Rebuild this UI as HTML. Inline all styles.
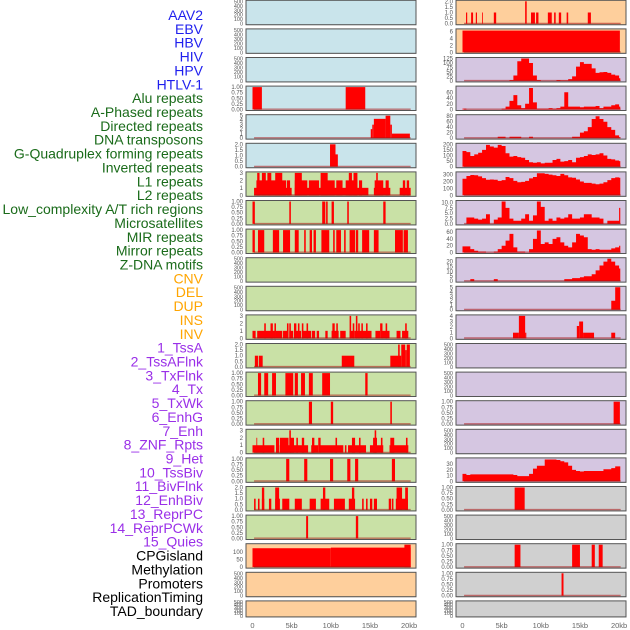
<!DOCTYPE html>
<html><head><meta charset="utf-8"><style>
html,body{margin:0;padding:0;background:#fff;}
svg{display:block;font-family:"Liberation Sans",sans-serif;}
</style></head><body>
<svg id="chart" width="630" height="630" viewBox="0 0 630 630" xmlns="http://www.w3.org/2000/svg"></svg>
<script>
// ---- data ----
const trackLabels = ["AAV2","EBV","HBV","HIV","HPV","HTLV-1","Alu repeats","A-Phased repeats","Directed repeats","DNA transposons","G-Quadruplex forming repeats","Inverted repeats","L1 repeats","L2 repeats","Low_complexity A/T rich regions","Microsatellites","MIR repeats","Mirror repeats","Z-DNA motifs","CNV","DEL","DUP","INS","INV","1_TssA","2_TssAFlnk","3_TxFlnk","4_Tx","5_TxWk","6_EnhG","7_Enh","8_ZNF_Rpts","9_Het","10_TssBiv","11_BivFlnk","12_EnhBiv","13_ReprPC","14_ReprPCWk","15_Quies","CPGisland","Methylation","Promoters","ReplicationTiming","TAD_boundary"];
const xTicks = [0,5,10,15,20];
const xTickLabels = ["0","5kb","10kb","15kb","20kb"];
const emptyTicks = [0,100,200,300,400,500];
// segment data [startKb, endKb, value]
const hivSegs = [[0,1.2,1],[11.9,14.4,1]];
const hpvSegs = [[15.1,15.3,2],[15.3,15.5,3],[15.5,17.0,4.3],[17.0,17.6,5],[17.6,17.8,3],[17.8,20.1,1]];
const htlvSegs = [[9.9,10.6,2],[10.6,10.9,1.1]];
const aluSegs = [[0.2,5.0,1],[5.4,14.8,1],[15.5,17.6,1],[18.8,20.2,1],
 [0.5,4.3,2],[4.4,4.8,2],[5.4,7.0,2],[7.2,8.5,2],[8.7,10.5,2],[10.7,11.5,2],[11.9,13.4,2],[13.6,14.0,2],[15.6,16.7,2],[17.0,17.4,2],[19.2,19.5,2],[19.7,20.0,2],
 [0.6,0.9,3],[1.2,1.7,3],[1.9,2.4,3],[2.9,3.8,3],[5.4,6.3,3],[8.7,9.6,3],[12.3,12.7,3],[12.9,13.4,3],[15.8,16.0,3]];
const aphasedSegs = [[0,0.3,1],[4.7,4.9,1],[8.9,9.3,1],[9.4,9.6,1],[10.1,10.4,1],[12.1,12.3,1],[16.7,17.0,1]];
const directedSegs = [[0,0.3,1],[0.7,1.5,1],[2.6,3.4,1],[3.9,4.8,1],[5.4,5.9,1],[6.6,6.8,1],[7.3,7.6,1],[7.8,8.1,1],[8.8,9.8,1],[10.3,10.5,1],[10.7,11.3,1],[11.7,11.9,1],[12.4,13.1,1],[13.2,13.5,1],[14.0,14.9,1],[15.5,16.1,1],[18.2,19.2,1],[19.3,19.85,1]];
const invertedSegs = [[0,0.4,1],[0.6,2.9,1],[3.0,3.8,1],[3.9,4.6,1],[4.7,5.2,1],[5.3,6.2,1],[6.3,7.5,1],[7.6,8.0,1],[8.2,8.5,1],[9.3,9.6,1],[10.1,11.0,1],[11.2,11.9,1],[12.4,12.9,1],[13.0,15.2,1],[15.7,16.3,1],[16.5,17.5,1],[18.4,18.9,1],[19.1,19.9,1],
 [1.5,1.7,2],[2.3,2.6,2],[2.8,3.0,2],[4.4,4.6,2],[4.7,4.9,2],[5.3,5.6,2],[5.8,6.0,2],[6.3,6.5,2],[6.9,7.1,2],[10.2,10.5,2],[10.7,10.9,2],[12.8,13.0,2],[13.5,13.7,2],[13.9,14.1,2],[14.5,14.7,2],[16.3,16.6,2],[17.0,17.2,2],[19.5,19.7,2],
 [12.4,12.6,3],[13.2,13.4,3]];
const l1Segs = [[0.3,0.7,1],[0.8,1.3,1],[11.4,13.0,1],[17.6,19.0,1],[18.6,18.8,2],[19.0,19.5,2],[19.5,19.7,1.5],[19.7,20.1,2]];
const l2Segs = [[0.7,1.1,1],[1.5,2.0,1],[2.5,3.0,1],[4.2,5.2,1],[5.4,5.8,1],[6.2,6.7,1],[7.2,7.7,1],[8.9,9.9,1],[14.4,14.7,1]];
const lowcxSegs = [[7.2,7.6,1],[10.0,10.3,1],[17.6,17.8,1]];
const microSegs = [[0,2.8,1],[3.0,3.4,1],[3.5,7.1,1],[7.5,8.4,1],[8.6,11.6,1],[11.8,12.0,1],[12.2,14.5,1],[15.0,16.7,1],[17.5,19.9,1],
 [0.5,0.6,2],[1.3,1.5,2],[3.0,3.4,2],[3.5,4.6,2],[4.8,5.3,2],[5.6,5.8,2],[6.3,6.6,2],[7.6,7.9,2],[8.4,8.7,2],[10.6,10.8,2],[12.7,13.1,2],[13.6,13.8,2],[15.4,15.9,2],[16.4,16.6,2],[17.6,18.1,2],[19.6,19.8,2],
 [4.7,4.9,3],[15.6,15.8,3]];
const mirSegs = [[4.3,4.7,1],[6.6,7.0,1],[9.9,10.3,1],[12.1,12.5,1],[13.1,13.5,1],[17.8,18.2,1]];
const mirrorSegs = [[0.2,0.4,1],[0.7,0.9,1],[1.2,1.5,1],[2.1,2.4,1],[2.9,3.5,1],[3.8,4.7,1],[5.4,6.3,1],[7.3,8.1,1],[8.7,9.8,1],[10.4,11.8,1],[12.3,13.1,1],[14.0,14.2,1],[14.5,14.7,1],[15.0,15.3,1],[15.5,15.9,1],[17.4,17.7,1],[17.8,18.0,1],[18.3,19.85,1],
 [1.2,1.5,2],[2.9,3.4,2],[9.0,9.3,2],[12.7,13.0,2],[18.4,19.1,2],[19.5,19.85,2]];
const zdnaSegs = [[6.85,7.1,1],[13.2,13.5,1]];
const cnvSegs = [[0,10,123],[10,20.2,127],[19.4,20.2,146]];
const insSegs = [[0.45,0.6,1],[1.1,1.35,1],[1.7,1.85,1],[2.5,2.6,1],[4.0,4.3,1],[8.0,8.2,2],[8.75,9.25,1],[9.4,9.7,1],[10.9,11.4,1],[11.7,11.9,1],[12.3,12.6,1],[13.3,13.5,1],[16.0,16.4,1]];
const invSegs = [[0,20.1,6.3]];
const tssBivSegs = [[6.45,7.2,1],[7.2,8.0,4],[8.0,8.15,1],[14.6,14.9,2.2],[14.9,15.4,3],[15.4,16.8,1],[19.0,19.5,1]];
const reprPCSegs = [[19.3,20.1,1]];
const cpgSegs = [[6.66,7.94,1]];
const promoterSegs = [[6.66,7.4,1],[14.0,15.0,1],[16.5,16.9,1],[17.4,17.9,1]];
const repTimeSegs = [[12.65,12.9,1]];
// binned data, 0.5 kb bins starting at 0
const tssAVals = [0,0,0,0,0,0,0,0,0,0,0,0,5,30,110,125,125,100,30,5,0,0,0,0,5,3,3,10,25,80,105,95,95,70,45,48,50,45,35,30,15];
const tssAFlnkVals = [3,0,0,0,0,0,0,0,0,0,3,10,30,50,15,5,20,75,25,3,3,3,5,3,5,10,60,10,10,10,8,10,10,10,12,5,10,10,15,18,10];
const txFlnkVals = [0,0,0,0,0,0,0,0,0,5,5,0,5,5,5,0,0,5,0,0,0,0,0,0,0,0,0,0,5,5,20,25,40,70,80,70,60,40,30,10,3];
const txVals = [140,130,95,110,125,150,195,180,170,195,185,120,90,95,85,80,60,40,35,40,30,35,35,60,70,45,50,60,40,80,85,95,110,105,110,120,100,70,65,55,50];
const txWkVals = [240,280,295,290,275,250,225,230,225,210,220,265,250,210,190,195,210,245,265,320,320,310,300,290,280,310,290,260,255,230,200,180,180,170,160,170,190,220,250,260,255];
const enhGVals = [0,3,3,2.5,2,2.5,4.5,0,2,3,10.5,7.5,2.5,1.5,1.5,2.5,4.5,1.5,4,10.5,8,1.5,2.5,1.5,3,2.5,3,4.5,2.5,2.5,3,4.5,4.5,3,3,2.5,0,1.5,1.5,1.5,7.5];
const enhVals = [18,18,10,5,3,3,0,0,3,10,20,35,55,15,3,3,0,10,40,65,25,30,25,40,45,30,20,15,30,55,50,45,10,8,10,8,8,8,12,15,20];
const znfVals = [0,0,2,0,0,0,0,0,2,0,0,0,0,0,0,0,0,0,0,0,0,0,0,0,0,0,2,2,3,3,4,5,5,7,11,16,20,23,20,16,13];
const hetVals = [0,0,0,0,0,0,0,0,0,0,0,0,0,0,0,0,0,0,0,0,0,0,0,0,0,0,0,0,0,0,0,0,0,0,0,0,0,0,2,5,5];
const quiesVals = [13,11,12,12,12,12,12,12,12,12,12,12,12,11,9,9,9,13,22,27,27,38,38,38,37,35,33,27,20,18,17,18,18,18,18,18,21,21,23,26,26];

// ---- layout ----
const svg = document.getElementById('chart');
const NS = 'http://www.w3.org/2000/svg';
function mk(tag, attrs, parent){const e=document.createElementNS(NS,tag);for(const k in attrs)e.setAttribute(k,attrs[k]);(parent||svg).appendChild(e);return e;}
const BG = {blue:'#c9e4eb',green:'#c9e1a6',orange:'#fecf9c',purple:'#d5c6e1',grey:'#d0d0d0'};
const colX = [246,456], colW = 170;
function rowTop(i){return 0.3 + i*28.6;}
function rowH(i){return i===21 ? 16 : 24.4;}
function xScale(col,kb){return colX[col] + 6.5 + kb*7.83;}

function dec(ticks){const m=Math.max(...ticks);const step=ticks[1]-ticks[0];
 if(step<0.5||(m<=1&&step<1)) return 2; if(step%1!==0) return 1; if(m<=2&&ticks.length===5&&step===0.5) return 1; return 0;}

// panel list: col,row,bg,ymax,ticks,segs|bins
const panels = [
 [0,0,'blue',0,null,null],[0,1,'blue',0,null,null],[0,2,'blue',0,null,null],
 [0,3,'blue',1,[0,0.25,0.5,0.75,1],{s:hivSegs}],
 [0,4,'blue',5,[0,1,2,3,4,5],{s:hpvSegs}],
 [0,5,'blue',2,[0,0.5,1,1.5,2],{s:htlvSegs}],
 [0,6,'green',3,[0,1,2,3],{s:aluSegs}],
 [0,7,'green',1,[0,0.25,0.5,0.75,1],{s:aphasedSegs}],
 [0,8,'green',1,[0,0.25,0.5,0.75,1],{s:directedSegs}],
 [0,9,'green',0,null,null],[0,10,'green',0,null,null],
 [0,11,'green',3,[0,1,2,3],{s:invertedSegs}],
 [0,12,'green',2,[0,0.5,1,1.5,2],{s:l1Segs}],
 [0,13,'green',1,[0,0.25,0.5,0.75,1],{s:l2Segs}],
 [0,14,'green',1,[0,0.25,0.5,0.75,1],{s:lowcxSegs}],
 [0,15,'green',3,[0,1,2,3],{s:microSegs}],
 [0,16,'green',1,[0,0.25,0.5,0.75,1],{s:mirSegs}],
 [0,17,'green',2,[0,0.5,1,1.5,2],{s:mirrorSegs}],
 [0,18,'green',1,[0,0.25,0.5,0.75,1],{s:zdnaSegs}],
 [0,19,'orange',146,[0,50,100],{s:cnvSegs}],
 [0,20,'orange',0,null,null],[0,21,'orange',0,null,null],
 [1,0,'orange',2,[0,0.5,1,1.5,2],{s:insSegs}],
 [1,1,'orange',6.5,[0,2,4,6],{s:invSegs}],
 [1,2,'purple',125,[0,25,50,75,100,125],{b:tssAVals}],
 [1,3,'purple',78,[0,20,40,60],{b:tssAFlnkVals}],
 [1,4,'purple',82,[0,20,40,60,80],{b:txFlnkVals}],
 [1,5,'purple',200,[0,50,100,150,200],{b:txVals}],
 [1,6,'purple',325,[0,100,200,300],{b:txWkVals}],
 [1,7,'purple',10.5,[0,2.5,5,7.5,10],{b:enhGVals}],
 [1,8,'purple',66,[0,20,40,60],{b:enhVals}],
 [1,9,'purple',23,[0,5,10,15,20],{b:znfVals}],
 [1,10,'purple',5,[0,1,2,3,4,5],{b:hetVals}],
 [1,11,'purple',4,[0,1,2,3,4],{s:tssBivSegs}],
 [1,12,'purple',0,null,null],[1,13,'purple',0,null,null],
 [1,14,'purple',1,[0,0.25,0.5,0.75,1],{s:reprPCSegs}],
 [1,15,'purple',0,null,null],
 [1,16,'purple',39,[0,10,20,30],{b:quiesVals}],
 [1,17,'grey',1,[0,0.25,0.5,0.75,1],{s:cpgSegs}],
 [1,18,'grey',0,null,null],
 [1,19,'grey',1,[0,0.25,0.5,0.75,1],{s:promoterSegs}],
 [1,20,'grey',1,[0,0.25,0.5,0.75,1],{s:repTimeSegs}],
 [1,21,'grey',0,null,null]
];

function fmt(v,ticks){
 const step=ticks[1]-ticks[0];
 if(Math.max(...ticks)===1 && step===0.25) return v.toFixed(2);
 if(step===2.5) return v.toFixed(1);
 if(step===0.5) return v.toFixed(1);
 return String(v);
}

panels.forEach((p,idx)=>{
 const [col,row,bg,ymaxIn,ticksIn,data]=p;
 const x0=colX[col], t=rowTop(row), h=rowH(row), b=t+h;
 const ymax = ymaxIn || 500;
 const ticks = ticksIn || emptyTicks;
 const g = mk('g',{});
 
 
 const r = mk('rect',{x:x0+0.5,y:t+0.5,width:colW,height:h,fill:'#9a9a9a'},g);
 
 
 const bgr = mk('rect',{x:x0,y:t,width:colW,height:h,fill:BG[bg],stroke:'#555',"stroke-width":1},g);
 
 
 const yS = v => b - 1 - (v/ymax)*(h-2);
 if(data){
  const bars = mk('g',{fill:'#ff0000'},g);
  
  
  if(data.s){
   data.s.slice().sort((a,c)=>a[2]-c[2]).forEach(s=>{
    const xa=xScale(col,s[0]), xb=xScale(col,s[1]);
    const rc = mk('rect',{x:xa,y:yS(s[2]),width:Math.max(0.8,xb-xa),height:yS(0)-yS(s[2])},bars);
    
    
   });
  } else {
   let d='M'+xScale(col,0)+','+yS(0);
   data.b.forEach((v,i)=>{
    const xa=xScale(col,i*0.5), xb=xScale(col,Math.min(20.15,i*0.5+0.5));
    d+=' L'+xa+','+yS(v)+' L'+xb+','+yS(v);
   });
   d+=' L'+xScale(col,20.15)+','+yS(0)+' Z';
   const pa = mk('path',{d:d},bars);
   
   
  }
  const bl = mk('line',{x1:xScale(col,0.2),x2:xScale(col,20.2),y1:yS(0)-0.3,y2:yS(0)-0.3,stroke:'rgba(170,20,20,0.55)','stroke-width':1.4},g);
  
  
 }
 const ax = mk('g',{'font-size':ticksIn?6:5.5,fill:'#555','text-anchor':'end'},g);
 
 
 ticks.forEach(v=>{
  const tx = mk('text',{x:x0-3,y:yS(v)+2},ax);
  
  
  tx.textContent = ticksIn ? fmt(v,ticks) : String(v);
 });
});

// x axes
[0,1].forEach(col=>{
 const g = mk('g',{'font-size':7.5,fill:'#666','text-anchor':'middle'});
 
 
 xTicks.forEach((v,i)=>{
  const tx = mk('text',{x:xScale(col,v),y:628},g);
  
  
  tx.textContent = xTickLabels[i];
 });
});

// left labels
const labelColors = i => i<6?'#1f1fee':i<19?'#1a6b1a':i<24?'#ffa500':i<39?'#9a2fe8':'#000';
const lg = mk('g',{'font-size':14,'text-anchor':'end'});


trackLabels.forEach((s,i)=>{
 const tx = mk('text',{x:203,y:15+i*13.86+5,fill:labelColors(i)},lg);
 
 
 tx.textContent = s;
});
</script>
</body></html>
